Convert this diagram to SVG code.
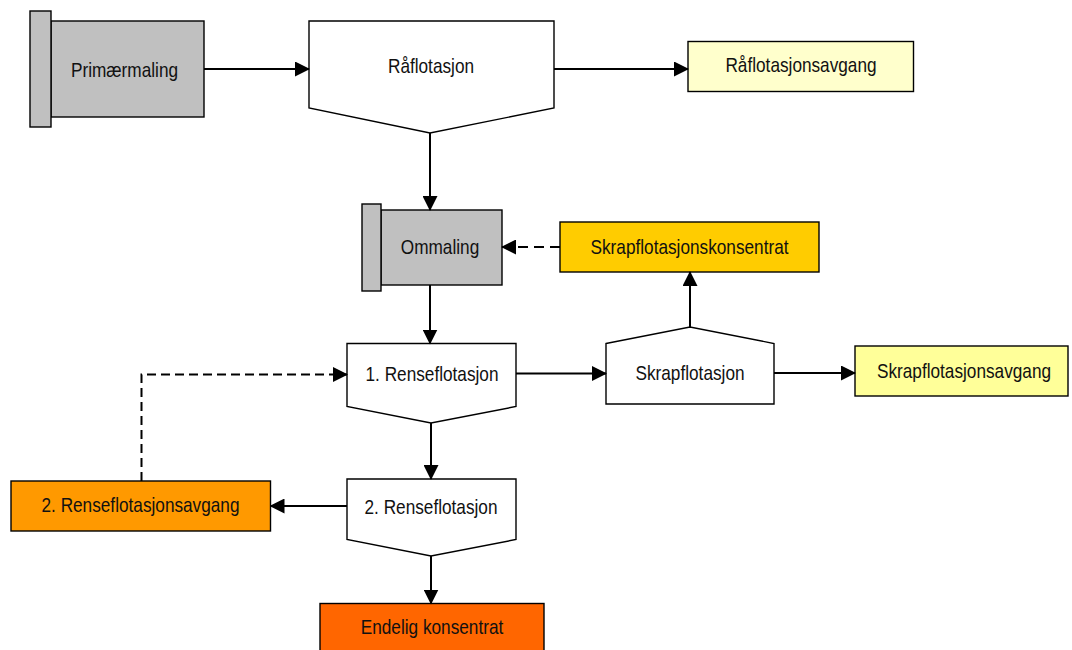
<svg xmlns="http://www.w3.org/2000/svg" width="1072" height="650" viewBox="0 0 1072 650">
<style>
.s{stroke:#000;stroke-width:1.4;}
.t{font-family:"Liberation Sans",Arial,sans-serif;font-size:21px;fill:#111;text-anchor:middle;}
.c{fill:none;stroke:#000;stroke-width:2;marker-end:url(#ah);}
.d{stroke-dasharray:10 6;}
</style>
<defs>
<marker id="ah" markerUnits="userSpaceOnUse" markerWidth="15" markerHeight="15" refX="14" refY="7.5" orient="auto">
<path d="M0,0 L15,7.5 L0,15 z" fill="#000"/>
</marker>
</defs>
<rect width="1072" height="650" fill="#fff"/>
<g id="primaermaling">
<rect class="s" x="51" y="21" width="153" height="96" fill="#C0C0C0"/>
<rect class="s" x="30" y="11" width="21" height="116" fill="#C0C0C0"/>
<text class="t" transform="translate(124.5,77) scale(0.82,1)">Primærmaling</text>
</g>
<g id="raflotasjon">
<polygon class="s" points="309,21 554,21 554,108 430,133 309,108" fill="#fff"/>
<text class="t" transform="translate(431,73) scale(0.82,1)">Råflotasjon</text>
</g>
<g id="raflotasjonsavgang">
<rect class="s" x="688" y="41.5" width="225.5" height="50" fill="#FFFFCC"/>
<text class="t" transform="translate(801,72) scale(0.82,1)">Råflotasjonsavgang</text>
</g>
<g id="ommaling">
<rect class="s" x="381" y="210" width="121" height="75" fill="#C0C0C0"/>
<rect class="s" x="362" y="204" width="19" height="87" fill="#C0C0C0"/>
<text class="t" transform="translate(440,254) scale(0.82,1)">Ommaling</text>
</g>
<g id="skrapkonsentrat">
<rect class="s" x="560" y="222" width="259" height="50" fill="#FFCC00"/>
<text class="t" transform="translate(689.5,253.5) scale(0.82,1)">Skrapflotasjonskonsentrat</text>
</g>
<g id="renseflotasjon1">
<polygon class="s" points="347,343.5 516,343.5 516,406.5 431,423 347,406.5" fill="#fff"/>
<text class="t" transform="translate(432,381) scale(0.82,1)">1. Renseflotasjon</text>
</g>
<g id="skrapflotasjon">
<polygon class="s" points="606,343.5 690,327 774,343.5 774,404 606,404" fill="#fff"/>
<text class="t" transform="translate(690,379.5) scale(0.82,1)">Skrapflotasjon</text>
</g>
<g id="skrapavgang">
<rect class="s" x="855" y="346" width="213" height="50" fill="#FFFF99"/>
<text class="t" transform="translate(964,377.5) scale(0.82,1)">Skrapflotasjonsavgang</text>
</g>
<g id="renseflotasjon2">
<polygon class="s" points="347,479 516,479 516,539.5 431,556 347,539.5" fill="#fff"/>
<text class="t" transform="translate(431,513.5) scale(0.82,1)">2. Renseflotasjon</text>
</g>
<g id="renseavgang2">
<rect class="s" x="11" y="481" width="259.5" height="50" fill="#FF9900"/>
<text class="t" transform="translate(140.5,512) scale(0.82,1)">2. Renseflotasjonsavgang</text>
</g>
<g id="endelig">
<rect class="s" x="320" y="603.5" width="224" height="55" fill="#FF6600"/>
<text class="t" transform="translate(432,633.5) scale(0.82,1)">Endelig konsentrat</text>
</g>
<g id="connectors">
<path class="c" d="M204,69 L309,69"/>
<path class="c" d="M554,69 L688,69"/>
<path class="c" d="M430,133 L430,210"/>
<path class="c d" d="M560,247 L502,247"/>
<path class="c" d="M690,327 L690,272"/>
<path class="c" d="M430,285 L430,343.5"/>
<path class="c" d="M516,373.5 L606,373.5"/>
<path class="c" d="M774,373 L855,373"/>
<path class="c" d="M431,423 L431,479"/>
<path class="c" d="M347,506 L270.5,506"/>
<path class="c d" style="stroke-dasharray:9 5" d="M141.5,481 L141.5,374.5 L347,374.5"/>
<path class="c" d="M431,556 L431,603.5"/>
</g>
</svg>
